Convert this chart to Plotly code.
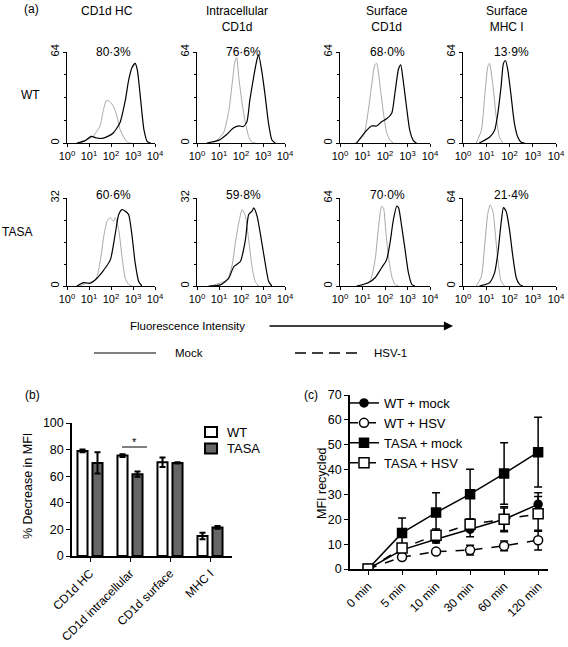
import plotly.graph_objects as go

W, H = 568, 647
def fx(px): return px / W
def fy(py): return 1 - py / H

FONT = "Liberation Sans, Arial, Helvetica, sans-serif"

# ---------------- Panel (a) histogram data: log10(fluorescence), count ----------------
# WT row
wt_hc_mock_lx = [0.45, 0.8, 1.1, 1.35, 1.6, 1.9, 2.1, 2.4, 2.65, 2.8, 2.95, 3.1, 3.2, 3.35, 3.5, 3.65, 3.8]
wt_hc_mock_y  = [0,    1.5, 4.6, 3.5,  3.2, 5,   7,   14,  30,   44,  53,   56,  51,  30,   9,   1,    0]
wt_hc_hsv_lx  = [0.6, 0.9, 1.2, 1.5, 1.65, 1.8, 1.95, 2.1, 2.27, 2.4, 2.6, 2.75, 2.9]
wt_hc_hsv_y   = [0,   2,   5,   12,  23,   30,  29,   26,  19,   10,  3.5, 0.5,  0]

wt_ic_mock_lx = [0.45, 1.0, 1.35, 1.65, 1.9, 2.1, 2.27, 2.4, 2.57, 2.73, 2.8, 2.95, 3.1, 3.25, 3.4, 3.55]
wt_ic_mock_y  = [0,    2,   6,    10.5, 12,  11.6, 15,  30,  46,   59,   62,  50,   33,  14,   2.3, 0]
wt_ic_hsv_lx  = [0.75, 1.2, 1.45, 1.6, 1.72, 1.8, 1.9, 2.05, 2.2, 2.35, 2.5, 2.65]
wt_ic_hsv_y   = [0,    7,   23,   42,  57,   60,  46,  28,   14,  4.6,  0.5, 0]

wt_sc_mock_lx = [0.74, 1.19, 1.4, 1.63, 1.85, 2.07, 2.3, 2.44, 2.6, 2.7, 2.8, 2.96, 3.1, 3.26, 3.4]
wt_sc_mock_y  = [0,    9,    12,  12,   15,   17,   21,  35,   52,  55,  45,  25,   9,   1.7,  0]
wt_sc_hsv_lx  = [0.67, 1.04, 1.26, 1.4, 1.55, 1.63, 1.78, 1.93, 2.07, 2.22, 2.37]
wt_sc_hsv_y   = [0,    5,    23,   40,  55,   56,   40,   21,   7.6,  2,    0]

wt_mhc_mock_lx = [0.7, 1.14, 1.36, 1.5, 1.64, 1.74, 1.83, 1.93, 2.07, 2.21, 2.36, 2.5, 2.65]
wt_mhc_mock_y  = [0,   4,    9,    21,  40,   56,   58,   51,   33,   14,   4,    0.5, 0]
wt_mhc_hsv_lx  = [0.57, 0.79, 0.93, 1.07, 1.14, 1.29, 1.43, 1.57, 1.71]
wt_mhc_hsv_y   = [0,    9,    32,   54,   56,   40,   18,   4,    0]

# TASA row
ta_hc_mock_lx = [0.45, 0.76, 1.06, 1.36, 1.67, 1.97, 2.2, 2.35, 2.5, 2.65, 2.8, 2.95, 3.1, 3.26, 3.4]
ta_hc_mock_y  = [0,    1.2,  1,    2.8,  5.8,  9.5,  19.3, 26,  27.8, 27.2, 26, 18.7, 8.3, 1.6,  0]
ta_hc_hsv_lx  = [0.53, 0.9, 1.3, 1.52, 1.67, 1.82, 1.97, 2.12, 2.2, 2.35, 2.5, 2.65, 2.8, 2.95]
ta_hc_hsv_y   = [0,    1,   2.2, 9.5,  18,   23.5, 24.8, 23.5, 24.8, 20.5, 10.7, 2.8, 0.6, 0]

ta_ic_mock_lx = [0.53, 1.06, 1.44, 1.67, 1.97, 2.2, 2.35, 2.5, 2.58, 2.73, 2.95, 3.1, 3.26, 3.4]
ta_ic_mock_y  = [0,    0.4,  2.8,  7,    8.9,  16.8, 26,  27.2, 28.4, 25.4, 15.6, 8.3, 1.6, 0]
ta_ic_hsv_lx  = [0.6, 1.36, 1.6, 1.74, 1.9, 2.05, 2.2, 2.35, 2.5, 2.65, 2.8]
ta_ic_hsv_y   = [0,   2.2,  7.7, 15.6, 23,  27.8, 25.4, 16.8, 7,  1.6,  0]

ta_sc_mock_lx = [0.74, 1.26, 1.56, 1.85, 2.07, 2.22, 2.37, 2.52, 2.6, 2.74, 2.89, 3.04, 3.19, 3.33]
ta_sc_mock_y  = [0,    2.4,  6,    13.3, 19,   31,   48,   58,   57,  43.5, 26.6, 9.7,  1.2,  0]
ta_sc_hsv_lx  = [0.89, 1.33, 1.56, 1.7, 1.85, 1.93, 2.04, 2.15, 2.3, 2.44, 2.6]
ta_sc_hsv_y   = [0,    3.6,  19,   41,  58,   57,   39,   22,   7,   1.2,  0]

ta_mhc_mock_lx = [0.7, 1.14, 1.36, 1.5, 1.64, 1.74, 1.86, 2.0, 2.14, 2.29, 2.43, 2.57]
ta_mhc_mock_y  = [0,   2.4,  9.7,  24,  46,   57,   54,   41,  22,   6,    1.2,  0]
ta_mhc_hsv_lx  = [0.57, 0.79, 0.93, 1.07, 1.17, 1.29, 1.4, 1.5, 1.64, 1.79]
ta_mhc_hsv_y   = [0,    7,    29,   53,   59,   54,   36,  19,  3.6,  0]

col_titles = ["CD1d HC", "Intracellular<br>CD1d", "Surface<br>CD1d", "Surface<br>MHC I"]
row_labels = ["WT", "TASA"]
pct_wt   = ["80·3%", "76·6%", "68·0%", "13·9%"]
pct_tasa = ["60·6%", "59·8%", "70·0%", "21·4%"]
ymax_wt   = [64, 64, 64, 64]
ymax_tasa = [32, 32, 64, 64]
hist_ticks = [1, 10, 100, 1000, 10000]
hist_ticktext = ["10<sup>0</sup>", "10<sup>1</sup>", "10<sup>2</sup>", "10<sup>3</sup>", "10<sup>4</sup>"]

# ---------------- Panel (b) ----------------
b_cats = ["CD1d HC", "CD1d intracellular", "CD1d surface", "MHC I"]
b_groups = ["WT", "TASA"]
b_wt = [79, 75.5, 70.5, 15]
b_wt_err = [1, 1, 3.5, 2.5]
b_tasa = [70, 61.5, 70, 21.5]
b_tasa_err = [8, 2, 0.5, 1]

# ---------------- Panel (c) ----------------
c_times = ["0 min", "5 min", "10 min", "30 min", "60 min", "120 min"]
c_wt_mock = [0, 7.7, 12, 16, 20, 26]
c_wt_mock_err = [0, 1, 1.5, 3, 4.5, 4.7]
c_wt_hsv = [0, 4.8, 7, 7.6, 9.3, 11.6]
c_wt_hsv_err = [0, 1, 1, 2, 2, 4]
c_tasa_mock = [0, 14.5, 22.7, 30.1, 38.4, 47]
c_tasa_mock_err = [0, 6, 8, 10, 12.4, 14]
c_tasa_hsv = [0, 8.4, 13.6, 18, 20, 22.2]
c_tasa_hsv_err = [0, 1.5, 2.5, 2, 5, 7]

fig = go.Figure()
layout = {}
annotations = []
shapes = []

col_px = [(67, 155), (197, 285), (340, 430), (463, 556)]
row_px = [(52, 143), (198, 286)]

hist_data = [
    [(wt_hc_mock_lx, wt_hc_mock_y, wt_hc_hsv_lx, wt_hc_hsv_y),
     (wt_ic_mock_lx, wt_ic_mock_y, wt_ic_hsv_lx, wt_ic_hsv_y),
     (wt_sc_mock_lx, wt_sc_mock_y, wt_sc_hsv_lx, wt_sc_hsv_y),
     (wt_mhc_mock_lx, wt_mhc_mock_y, wt_mhc_hsv_lx, wt_mhc_hsv_y)],
    [(ta_hc_mock_lx, ta_hc_mock_y, ta_hc_hsv_lx, ta_hc_hsv_y),
     (ta_ic_mock_lx, ta_ic_mock_y, ta_ic_hsv_lx, ta_ic_hsv_y),
     (ta_sc_mock_lx, ta_sc_mock_y, ta_sc_hsv_lx, ta_sc_hsv_y),
     (ta_mhc_mock_lx, ta_mhc_mock_y, ta_mhc_hsv_lx, ta_mhc_hsv_y)],
]

n = 0
for r in range(2):
    ymaxs = ymax_wt if r == 0 else ymax_tasa
    pcts = pct_wt if r == 0 else pct_tasa
    for c in range(4):
        n += 1
        xs = "" if n == 1 else str(n)
        mlx, my, hlx, hy = hist_data[r][c]
        fig.add_trace(go.Scatter(x=[10 ** v for v in hlx], y=hy, mode="lines",
                                 line=dict(color="#a8a8a8", width=1, shape="spline", smoothing=0.6),
                                 xaxis="x" + xs, yaxis="y" + xs, showlegend=False, hoverinfo="skip"))
        fig.add_trace(go.Scatter(x=[10 ** v for v in mlx], y=my, mode="lines",
                                 line=dict(color="black", width=1.2, shape="spline", smoothing=0.6),
                                 xaxis="x" + xs, yaxis="y" + xs, showlegend=False, hoverinfo="skip"))
        ym = ymaxs[c]
        layout["xaxis" + xs] = dict(
            type="log", range=[0, 4], domain=[fx(col_px[c][0]), fx(col_px[c][1])],
            anchor="y" + xs, showline=True, linecolor="black", linewidth=1, automargin=False,
            ticks="outside", ticklen=3, tickcolor="black", tickvals=hist_ticks, ticktext=hist_ticktext,
            tickfont=dict(size=11, color="black"), showgrid=False, zeroline=False)
        layout["yaxis" + xs] = dict(
            range=[0, ym], domain=[fy(row_px[r][1]), fy(row_px[r][0])],
            anchor="x" + xs, showline=True, linecolor="black", linewidth=1, automargin=False,
            ticks="outside", ticklen=3, tickcolor="black",
            tickvals=[0, ym], ticktext=["0", str(ym)],
            minor=dict(tickvals=[ym / 4, ym / 2, 3 * ym / 4], ticks="outside", ticklen=2, tickcolor="black",
                       showgrid=False),
            tickangle=-90, tickfont=dict(size=11, color="black"), showgrid=False, zeroline=False)
        pct_x = (col_px[c][0] + col_px[c][1]) / 2 + 2
        annotations.append(dict(x=fx(pct_x), y=fy(row_px[r][0] + (0 if r == 0 else -3)), xref="paper", yref="paper",
                                text=pcts[c], showarrow=False, font=dict(size=12),
                                xanchor="center", yanchor="middle"))

# Column titles
col_title_x = [107, 237, 387, 507]
for i, t in enumerate(col_titles):
    annotations.append(dict(x=fx(col_title_x[i]), y=fy(2), xref="paper", yref="paper", text=t,
                            showarrow=False, font=dict(size=12), xanchor="center", yanchor="top"))
annotations.append(dict(x=fx(22), y=fy(9), xref="paper", yref="paper", text="(a)", showarrow=False,
                        font=dict(size=12), xanchor="left", yanchor="middle"))
annotations.append(dict(x=fx(30), y=fy(95), xref="paper", yref="paper", text=row_labels[0], showarrow=False,
                        font=dict(size=12), xanchor="center", yanchor="middle"))
annotations.append(dict(x=fx(17), y=fy(232), xref="paper", yref="paper", text=row_labels[1], showarrow=False,
                        font=dict(size=12), xanchor="center", yanchor="middle"))

# Fluorescence intensity arrow and line legend
annotations.append(dict(x=fx(187), y=fy(326), xref="paper", yref="paper", text="Fluorescence Intensity",
                        showarrow=False, font=dict(size=11.5), xanchor="center", yanchor="middle"))
annotations.append(dict(x=fx(453), y=fy(326), xref="paper", yref="paper", text="", showarrow=True,
                        ax=-185, ay=0, arrowhead=2, arrowsize=1.3, arrowwidth=1.4, arrowcolor="black"))
shapes.append(dict(type="line", xref="paper", yref="paper", x0=fx(94), x1=fx(156), y0=fy(353), y1=fy(353),
                   line=dict(color="black", width=1.2)))
shapes.append(dict(type="line", xref="paper", yref="paper", x0=fx(295), x1=fx(357), y0=fy(353), y1=fy(353),
                   line=dict(color="black", width=1.3, dash="11px,6px")))
annotations.append(dict(x=fx(173), y=fy(353), xref="paper", yref="paper", text="Mock", showarrow=False,
                        font=dict(size=11.5), xanchor="left", yanchor="middle"))
annotations.append(dict(x=fx(372), y=fy(353), xref="paper", yref="paper", text="HSV-1", showarrow=False,
                        font=dict(size=11.5), xanchor="left", yanchor="middle"))

# ---------------- Panel (b) bars ----------------
bx = list(range(len(b_cats)))
b_fill = ["white", "#666666"]
for name, ys, es, col in [(b_groups[0], b_wt, b_wt_err, b_fill[0]), (b_groups[1], b_tasa, b_tasa_err, b_fill[1])]:
    fig.add_trace(go.Bar(x=bx, y=ys, name=name, xaxis="x9", yaxis="y9", showlegend=False,
                         marker=dict(color=col, line=dict(color="black", width=2)),
                         error_y=dict(type="data", array=es, color="black", thickness=2, width=3)))
layout["xaxis9"] = dict(domain=[fx(72), fx(232)], anchor="y9", range=[-0.45, 3.55], automargin=False,
                        tickvals=bx, ticktext=b_cats, tickangle=-45, ticks="outside", ticklen=4,
                        tickcolor="black", showline=True, linecolor="black", linewidth=1.5,
                        tickfont=dict(size=12, color="black"), showgrid=False, zeroline=False)
layout["yaxis9"] = dict(domain=[fy(556), fy(423)], anchor="x9", range=[0, 100], automargin=False,
                        tickvals=[0, 20, 40, 60, 80, 100], ticks="outside", ticklen=4, tickcolor="black",
                        showline=True, linecolor="black", linewidth=1.5,
                        tickfont=dict(size=12.5, color="black"), showgrid=False, zeroline=False)
# legend for (b)
for i, (name, col) in enumerate(zip(b_groups, b_fill)):
    yc = 432 + 16.5 * i
    shapes.append(dict(type="rect", xref="paper", yref="paper", x0=fx(205), x1=fx(217),
                       y0=fy(yc - 5), y1=fy(yc + 5), fillcolor=col, line=dict(color="black", width=2)))
    annotations.append(dict(x=fx(225), y=fy(yc), xref="paper", yref="paper", text=name, showarrow=False,
                            font=dict(size=13), xanchor="left", yanchor="middle"))
annotations.append(dict(x=fx(23), y=fy(395), xref="paper", yref="paper", text="(b)", showarrow=False,
                        font=dict(size=12), xanchor="left", yanchor="middle"))
annotations.append(dict(x=fx(28), y=fy(486), xref="paper", yref="paper", text="% Decrease in MFI",
                        textangle=-90, showarrow=False, font=dict(size=12.5), xanchor="center", yanchor="middle"))
shapes.append(dict(type="line", xref="paper", yref="paper", x0=fx(122), x1=fx(147), y0=fy(447), y1=fy(447),
                   line=dict(color="black", width=1)))
annotations.append(dict(x=fx(134.5), y=fy(442), xref="paper", yref="paper", text="*", showarrow=False,
                        font=dict(size=11), xanchor="center", yanchor="middle"))

# ---------------- Panel (c) lines ----------------
cx = list(range(len(c_times)))
series = [
    ("WT + mock", c_wt_mock, c_wt_mock_err, "circle", "black", "solid", 8),
    ("WT + HSV", c_wt_hsv, c_wt_hsv_err, "circle", "white", "dash", 9),
    ("TASA + mock", c_tasa_mock, c_tasa_mock_err, "square", "black", "solid", 9),
    ("TASA + HSV", c_tasa_hsv, c_tasa_hsv_err, "square", "white", "dash", 10),
]
for name, ys, es, sym, fill, dash, size in series:
    fig.add_trace(go.Scatter(x=cx, y=ys, name=name, mode="lines+markers", xaxis="x10", yaxis="y10",
                             line=dict(color="black", width=1.5, dash=dash),
                             marker=dict(symbol=sym, size=size, color=fill, line=dict(color="black", width=1.5)),
                             error_y=dict(type="data", array=es, color="black", thickness=1.5, width=4),
                             legend="legend"))
layout["xaxis10"] = dict(domain=[fx(350), fx(548)], anchor="y10", range=[-0.53, 5.29], automargin=False,
                         tickvals=cx, ticktext=c_times, tickangle=-45, ticks="outside", ticklen=4,
                         tickcolor="black", showline=True, linecolor="black", linewidth=1.5,
                         tickfont=dict(size=12, color="black"), showgrid=False, zeroline=False)
layout["yaxis10"] = dict(domain=[fy(569), fy(395)], anchor="x10", range=[0, 70], automargin=False,
                         tickvals=[0, 10, 20, 30, 40, 50, 60, 70], ticks="outside", ticklen=4, tickcolor="black",
                         showline=True, linecolor="black", linewidth=1.5,
                         tickfont=dict(size=12.5, color="black"), showgrid=False, zeroline=False)
annotations.append(dict(x=fx(302), y=fy(395), xref="paper", yref="paper", text="(c)", showarrow=False,
                        font=dict(size=12), xanchor="left", yanchor="middle"))
annotations.append(dict(x=fx(322), y=fy(483), xref="paper", yref="paper", text="MFI recycled",
                        textangle=-90, showarrow=False, font=dict(size=12.5), xanchor="center", yanchor="middle"))

fig.update_layout(
    width=W, height=H, autosize=False,
    margin=dict(l=0, r=0, t=0, b=0, autoexpand=False),
    paper_bgcolor="white", plot_bgcolor="white",
    font=dict(family=FONT, size=12, color="black"),
    barmode="group", bargap=0.25, bargroupgap=0.33,
    legend=dict(x=fx(344), y=fy(388), xanchor="left", yanchor="top", bgcolor="rgba(0,0,0,0)",
                font=dict(size=13), itemwidth=30, tracegroupgap=0),
    annotations=annotations, shapes=shapes,
    **layout,
)
fig.write_html("out.html", config={"displayModeBar": False},
               post_script="document.body.style.margin='0px';document.body.style.padding='0px';")
